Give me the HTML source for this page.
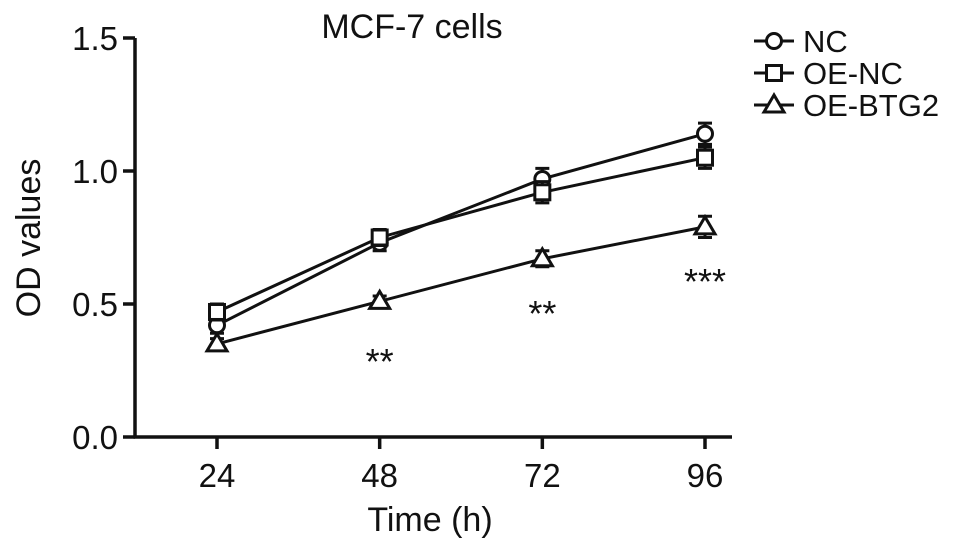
<!DOCTYPE html>
<html><head><meta charset="utf-8"><style>
body{margin:0;background:#fff;width:969px;height:547px;overflow:hidden}
text{font-family:"Liberation Sans",Arial,sans-serif;fill:#111}
</style></head><body>
<svg id="chart" width="969" height="547" viewBox="0 0 969 547" xmlns="http://www.w3.org/2000/svg">
<text x="412" y="38" font-size="34" text-anchor="middle">MCF-7 cells</text>
<text transform="translate(40,238) rotate(-90)" font-size="34" text-anchor="middle">OD values</text>
<text x="430" y="531" font-size="34" text-anchor="middle">Time (h)</text>
<g id="axes"></g><g id="series"></g><g id="legend"></g>
</svg>
<script>
const categories=[24,48,72,96];
const ncValues=[0.42,0.73,0.97,1.14];
const oeNcValues=[0.47,0.75,0.92,1.05];
const oeBtg2Values=[0.35,0.51,0.67,0.79];
const ncErr=[0.03,0.03,0.04,0.04];
const oeNcErr=[0.03,0.03,0.04,0.04];
const oeBtg2Err=[0.02,0.02,0.03,0.04];
const yTicks=[0,0.5,1.0,1.5];
const yTickLabels=["0.0","0.5","1.0","1.5"];
const sigLabels=["","**","**","***"];
const sigValues=[0,0.32,0.50,0.62];
const NS="http://www.w3.org/2000/svg";
const X0=135,Y0=437,PX=[217,705];
function xs(i){return PX[0]+i*(PX[1]-PX[0])/(categories.length-1);}
function ys(v){return Y0-v*266;}
function mk(t,a,p){const e=document.createElementNS(NS,t);for(const k in a)e.setAttribute(k,a[k]);p.appendChild(e);return e;}
const ax=document.getElementById('axes');
let yl=mk('line',{x1:X0,y1:ys(1.5),x2:X0,y2:Y0+1.5,stroke:'#111','stroke-width':3.5},ax);


let xl=mk('line',{x1:X0-1.5,y1:Y0,x2:732,y2:Y0,stroke:'#111','stroke-width':3.5},ax);


yTicks.forEach((v,i)=>{
 mk('line',{x1:X0-12,y1:ys(v),x2:X0,y2:ys(v),stroke:'#111','stroke-width':3.5},ax);
 const t=mk('text',{x:X0-17,y:ys(v)+12,'font-size':33,'text-anchor':'end'},ax);t.textContent=yTickLabels[i];
 
 
});
categories.forEach((c,i)=>{
 mk('line',{x1:xs(i),y1:Y0,x2:xs(i),y2:Y0+12,stroke:'#111','stroke-width':3.5},ax);
 const t=mk('text',{x:xs(i),y:Y0+50,'font-size':33,'text-anchor':'middle'},ax);t.textContent=c;
 
 
});
function marker(shape,x,y,g){
 if(shape==='circle')return mk('circle',{cx:x,cy:y,r:7.5,fill:'#fff',stroke:'#111','stroke-width':3},g);
 if(shape==='square')return mk('rect',{x:x-7.5,y:y-7.5,width:15,height:15,fill:'#fff',stroke:'#111','stroke-width':3},g);
 return mk('polygon',{points:`${x},${y-10} ${x-10},${y+7} ${x+10},${y+7}`,fill:'#fff',stroke:'#111','stroke-width':3},g);
}
const sg=document.getElementById('series');
[[ncValues,ncErr,'circle','nc'],[oeNcValues,oeNcErr,'square','oe-nc'],[oeBtg2Values,oeBtg2Err,'triangle','oe-btg2']].forEach(([vals,err,sh,nm])=>{
 const g=mk('g',{},sg);
 
 
 const l=mk('polyline',{points:vals.map((v,i)=>xs(i)+','+ys(v)).join(' '),fill:'none',stroke:'#111','stroke-width':3},g);
 
 
 vals.forEach((v,i)=>{
  const x=xs(i),a=ys(v+err[i]),b=ys(v-err[i]);
  mk('path',{d:`M${x},${a}V${b}M${x-7},${a}H${x+7}M${x-7},${b}H${x+7}`,stroke:'#111','stroke-width':3,fill:'none'},g);
  const m=marker(sh,x,ys(v),g);
  
  
 });
});
sigLabels.forEach((s,i)=>{if(!s)return;
 const t=mk('text',{x:xs(i),y:ys(sigValues[i])+22,'font-size':36,'text-anchor':'middle'},sg);t.textContent=s;
 
 
});
const lg=document.getElementById('legend');
[['NC','circle'],['OE-NC','square'],['OE-BTG2','triangle']].forEach(([n,sh],i)=>{
 const y=41+i*32;const g=mk('g',{},lg);
 
 
 mk('line',{x1:754,y1:y,x2:794,y2:y,stroke:'#111','stroke-width':3},g);
 marker(sh,774,y,g);
 const t=mk('text',{x:803,y:y+11,'font-size':31},g);t.textContent=n;
});
</script>
</body></html>
